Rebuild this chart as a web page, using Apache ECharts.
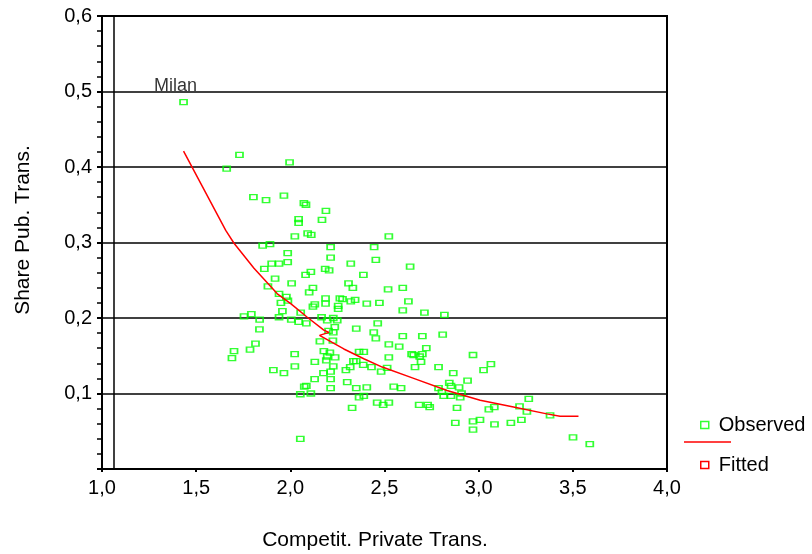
<!DOCTYPE html>
<html>
<head>
<meta charset="utf-8">
<script src="https://cdn.jsdelivr.net/npm/echarts@6/dist/echarts.min.js"></script>
<style>
html,body{margin:0;padding:0;background:#fff;}
#chart{width:812px;height:554px;}
</style>
</head>
<body>
<div id="chart"></div>
<script>
// Observed points: Competit. Private Trans. (x) vs Share Pub. Trans. (y)
const obsX = [
1.433,1.730,1.662,1.996,1.804,1.871,1.966,2.072,2.083,2.189,
2.044,2.044,2.168,2.092,2.111,2.024,2.523,1.853,1.892,2.214,
2.445,1.986,2.214,2.454,1.901,1.940,1.986,2.321,1.862,2.185,
2.206,2.109,2.081,2.388,1.919,2.007,2.309,2.120,2.332,1.881,
2.519,2.100,1.940,1.979,1.987,2.187,2.263,2.277,2.321,2.344,
1.950,2.187,2.130,2.406,2.473,2.254,2.254,2.120,1.958,2.055,
1.754,1.793,1.837,1.940,2.005,2.044,2.085,2.166,2.196,2.228,
2.249,2.464,2.236,2.350,1.836,2.203,2.228,2.443,2.157,2.226,
2.454,1.815,2.523,1.786,1.701,1.690,2.023,2.178,2.210,2.365,
2.390,2.238,2.196,2.523,2.130,2.191,2.335,2.350,2.387,2.024,
2.228,2.318,2.431,2.514,1.910,1.966,2.214,2.295,2.482,2.176,
2.129,2.214,2.302,2.085,2.074,2.214,2.350,2.406,2.053,2.109,
2.365,2.390,2.328,2.461,2.493,2.523,2.053,2.636,2.597,2.627,
2.597,2.712,2.818,2.597,2.701,2.809,2.578,2.722,2.644,2.655,
2.701,2.687,2.694,2.970,3.065,3.026,2.662,2.787,2.865,2.941,
2.844,2.853,2.896,2.549,2.588,2.787,2.805,2.814,2.853,2.902,
2.909,3.266,2.684,2.729,2.740,2.885,3.054,3.083,3.217,3.256,
3.379,2.876,2.970,2.970,3.007,3.084,3.171,3.227,3.501,3.590
];
const obsY = [
0.486,0.416,0.398,0.406,0.360,0.356,0.362,0.352,0.350,0.342,
0.331,0.326,0.330,0.312,0.310,0.308,0.308,0.296,0.298,0.294,
0.294,0.286,0.280,0.277,0.272,0.272,0.274,0.272,0.265,0.265,
0.263,0.261,0.257,0.257,0.252,0.246,0.246,0.240,0.240,0.242,
0.238,0.234,0.232,0.228,0.223,0.226,0.226,0.225,0.222,0.224,
0.220,0.219,0.218,0.219,0.220,0.216,0.212,0.215,0.209,0.207,
0.202,0.205,0.198,0.201,0.198,0.195,0.193,0.201,0.197,0.200,
0.197,0.193,0.188,0.186,0.185,0.183,0.181,0.181,0.169,0.170,
0.173,0.166,0.165,0.158,0.156,0.147,0.152,0.156,0.154,0.155,
0.155,0.148,0.149,0.148,0.142,0.144,0.143,0.143,0.138,0.136,
0.136,0.135,0.135,0.134,0.131,0.127,0.129,0.131,0.129,0.127,
0.119,0.119,0.115,0.110,0.109,0.107,0.107,0.108,0.099,0.100,
0.095,0.097,0.081,0.088,0.085,0.088,0.040,0.268,0.240,0.222,
0.210,0.207,0.204,0.176,0.176,0.178,0.162,0.160,0.152,0.151,
0.152,0.149,0.142,0.151,0.139,0.131,0.135,0.135,0.127,0.117,
0.114,0.110,0.108,0.109,0.107,0.107,0.102,0.097,0.097,0.095,
0.100,0.093,0.085,0.085,0.082,0.081,0.079,0.082,0.083,0.076,
0.071,0.061,0.063,0.052,0.065,0.059,0.061,0.065,0.042,0.033
];
// Labelled observation
const labelNames = ['Milan'];
const labelIndex = [0];

// Fitted curve
const fitX = [1.433,1.657,1.701,1.807,1.931,2.002,2.090,2.178,2.205,2.155,2.284,2.390,2.488,2.655,2.832,3.008,3.185,3.362,3.432,3.530];
const fitY = [0.421,0.316,0.299,0.266,0.232,0.219,0.201,0.184,0.181,0.177,0.159,0.146,0.135,0.120,0.104,0.091,0.082,0.073,0.070,0.070];

// Axis ticks
const xTicks = [1.0,1.5,2.0,2.5,3.0,3.5,4.0];
const yTicks = [0,0.1,0.2,0.3,0.4,0.5,0.6];

const FONT = "'Liberation Sans', Arial, sans-serif";
const fmt = v => v.toFixed(1).replace('.', ',');

const obsData = obsX.map((x, i) => {
  const item = { value: [x, obsY[i]] };
  const k = labelIndex.indexOf(i);
  if (k >= 0) {
    item.label = {
      show: true, formatter: labelNames[k], position: 'top', distance: 4,
      offset: [-8, 0], color: '#000', fontSize: 18, fontFamily: FONT
    };
  }
  return item;
});
const fitData = fitX.map((x, i) => [x, fitY[i]]);

const chart = echarts.init(document.getElementById('chart'), null, { renderer: 'canvas' });
chart.setOption({
  animation: false,
  backgroundColor: '#fff',
  textStyle: { fontFamily: FONT },
  grid: {
    left: 102, right: 145, top: 16, bottom: 85,
    show: true, borderColor: '#000', borderWidth: 2, backgroundColor: 'transparent'
  },
  xAxis: {
    type: 'value', min: xTicks[0], max: xTicks[xTicks.length - 1], interval: 0.5,
    axisLine: { show: true, lineStyle: { color: '#000', width: 2 } },
    axisTick: { show: true, length: 3, lineStyle: { color: '#000', width: 2 } },
    axisLabel: { color: '#000', fontSize: 20, fontFamily: FONT, margin: 9, formatter: v => fmt(v) },
    splitLine: { show: false }
  },
  yAxis: {
    type: 'value', min: yTicks[0], max: yTicks[yTicks.length - 1], interval: 0.1,
    axisLine: { show: true, lineStyle: { color: '#000', width: 2 } },
    axisTick: { show: true, length: 5, lineStyle: { color: '#000', width: 2 } },
    minorTick: { show: true, splitNumber: 5, length: 5, lineStyle: { color: '#000', width: 1.5 } },
    axisLabel: { color: '#000', fontSize: 20, fontFamily: FONT, margin: 10, padding: [6, 0, 0, 0], formatter: v => (v === 0 ? '' : fmt(v)) },
    splitLine: { show: true, lineStyle: { color: '#000', width: 1.5 } }
  },
  legend: {
    orient: 'vertical', left: 695, top: 410, itemWidth: 8, itemHeight: 7, itemGap: 20,
    textStyle: { color: '#000', fontSize: 20, fontFamily: FONT, padding: [0, 0, 0, 5] },
    selectedMode: false,
    data: [
      { name: 'Observed', icon: 'rect', itemStyle: { color: '#fff', borderColor: '#00ff00', borderWidth: 1.5 } },
      { name: 'Fitted', icon: 'rect', itemStyle: { color: '#fff', borderColor: '#ff0000', borderWidth: 1.5 } }
    ]
  },
  graphic: [
    { type: 'line', shape: { x1: 684, y1: 442, x2: 731, y2: 442 }, style: { stroke: '#ff0000', lineWidth: 1.5 } },
    { type: 'text', x: 375, y: 540, style: { text: 'Competit. Private Trans.', fill: '#000', font: '21px ' + FONT, textAlign: 'center', textVerticalAlign: 'middle' } },
    { type: 'text', x: 23, y: 230, rotation: Math.PI / 2, style: { text: 'Share Pub. Trans.', fill: '#000', font: '21px ' + FONT, textAlign: 'center', textVerticalAlign: 'middle' } }
  ],
  series: [
    {
      name: 'Observed', type: 'scatter', symbol: 'rect', symbolSize: [7, 5],
      itemStyle: { color: 'transparent', borderColor: '#00ff00', borderWidth: 1.5 },
      emphasis: { disabled: true },
      data: obsData,
      markLine: {
        silent: true, symbol: 'none', label: { show: false },
        lineStyle: { color: '#000', width: 1.5, type: 'solid' },
        data: [{ xAxis: 1.065 }]
      }
    },
    {
      name: 'Fitted', type: 'line', showSymbol: false, symbol: 'none',
      lineStyle: { color: '#ff0000', width: 1.5 },
      itemStyle: { color: '#ff0000' },
      emphasis: { disabled: true },
      data: fitData
    }
  ]
});
</script>
</body>
</html>
